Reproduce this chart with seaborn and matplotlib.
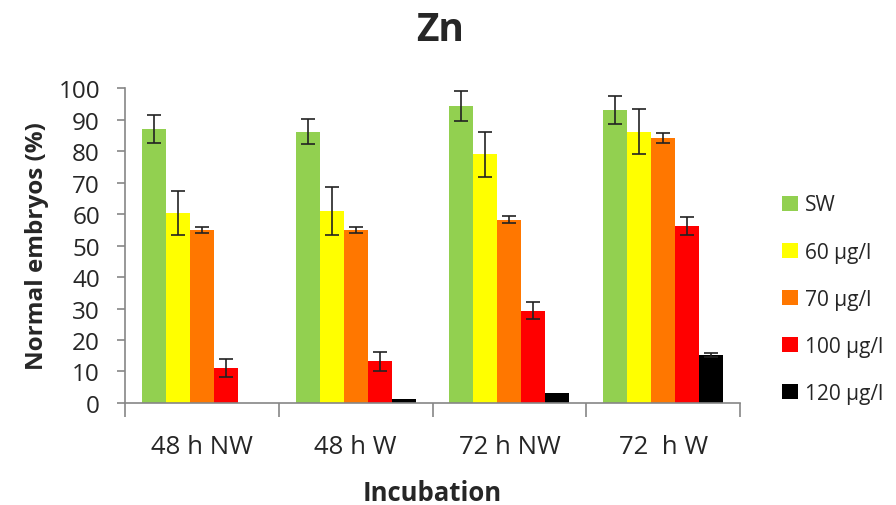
import numpy as np
import pandas as pd
import seaborn as sns
import matplotlib.pyplot as plt

# data
incubation = ["48 h NW", "48 h W", "72 h NW", "72  h W"]
treatments = ["SW", "60 µg/l", "70 µg/l", "100 µg/l", "120 µg/l"]
sw = [87.0, 86.2, 94.2, 93.0]
c60 = [60.2, 61.0, 79.0, 86.2]
c70 = [55.0, 55.0, 58.2, 84.2]
c100 = [11.2, 13.2, 29.3, 56.2]
c120 = [0.0, 1.3, 3.3, 15.3]
sw_err = [4.4, 4.0, 4.8, 4.4]
c60_err = [7.0, 7.6, 7.1, 7.1]
c70_err = [1.0, 1.0, 1.2, 1.5]
c100_err = [2.8, 2.9, 2.7, 2.8]
c120_err = [0.0, 0.0, 0.0, 0.6]
colors = ["#92D050", "#FFFF00", "#FF7700", "#FF0000", "#000000"]

values = [sw, c60, c70, c100, c120]
errors = [sw_err, c60_err, c70_err, c100_err, c120_err]
rows = []
for t, vals in zip(treatments, values):
    for inc, v in zip(incubation, vals):
        rows.append({"Incubation": inc, "Treatment": t, "Value": v})
df = pd.DataFrame(rows)

sns.set_style("white")
plt.rcParams["font.family"] = ["Open Sans", "DejaVu Sans"]

fig = plt.figure(figsize=(8.96, 5.06), dpi=100)
ax = fig.add_axes([0.1395, 0.2016, 0.6865, 0.6224])

sns.barplot(data=df, x="Incubation", y="Value", hue="Treatment",
            hue_order=treatments, order=incubation, palette=colors,
            width=0.78, saturation=1, errorbar=None, edgecolor="none", ax=ax)

# error bars on top of each bar
for cont, errs in zip(ax.containers, errors):
    for bar, e in zip(cont, errs):
        if e <= 0:
            continue
        xc = bar.get_x() + bar.get_width() / 2
        ax.errorbar(xc, bar.get_height(), yerr=e, fmt="none",
                    ecolor="#222222", elinewidth=1.2, capsize=5, capthick=1.2)

# axes styling
ax.set_xlim(-0.5, 3.5)
ax.set_ylim(0, 100)
ax.set_yticks(np.arange(0, 101, 10))
ax.set_xticks(np.arange(-0.5, 3.6, 1), minor=True)
for side in ["top", "right"]:
    ax.spines[side].set_visible(False)
for side in ["left", "bottom"]:
    ax.spines[side].set_color("#868686")
    ax.spines[side].set_linewidth(1.2)
ax.tick_params(axis="y", which="major", direction="out", length=6,
               color="#868686", width=1.2, labelsize=17.5, left=True, pad=12)
ax.tick_params(axis="x", which="major", length=0, labelsize=18.5, pad=22)
ax.tick_params(axis="x", which="minor", direction="out", length=10,
               color="#868686", width=1.2, bottom=True)

ax.set_xlabel("Incubation", fontsize=18.5, fontweight="bold", labelpad=15)
ax.set_ylabel("Normal embryos (%)", fontsize=17.5, fontweight="bold", labelpad=7)
fig.suptitle("Zn", fontsize=28, fontweight="bold", x=0.491, y=0.978)

ax.legend(loc="center left", bbox_to_anchor=(1.055, 0.33), frameon=False,
          fontsize=15, handlelength=0.75, handleheight=0.75,
          labelspacing=1.25, handletextpad=0.35, borderaxespad=0)

fig.savefig("out.png", dpi=100)
